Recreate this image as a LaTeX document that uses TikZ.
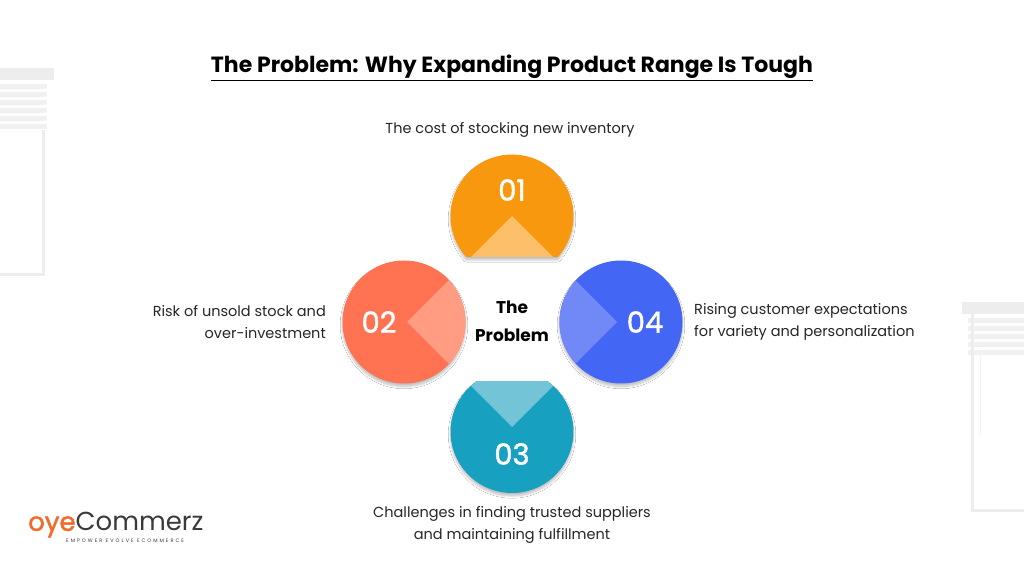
\documentclass[tikz,border=0pt]{standalone}
\usepackage{fontspec}
\setmainfont{Poppins}
\usetikzlibrary{shadows.blur}
\definecolor{orangeA}{HTML}{F7980F}
\definecolor{orangeB}{HTML}{FDBF6A}
\definecolor{coralA}{HTML}{FF7353}
\definecolor{coralB}{HTML}{FF9C82}
\definecolor{blueA}{HTML}{4466F5}
\definecolor{blueB}{HTML}{7089F7}
\definecolor{tealA}{HTML}{18A0C0}
\definecolor{tealB}{HTML}{72C4D6}
\definecolor{decor}{HTML}{EDEDED}
\definecolor{logoorange}{HTML}{F26B2A}
\definecolor{logogray}{HTML}{3A3A3A}
\begin{document}
\begin{tikzpicture}[x=1pt,y=1pt,
    num/.style={text=white,font=\fontsize{29}{30}\selectfont\addfontfeature{FakeBold=1.5}},
    desc/.style={font=\fontsize{14.5}{22}\selectfont,text=black!85,inner sep=0pt},
    shade/.style={blur shadow={shadow xshift=0pt,shadow yshift=-3pt,shadow blur steps=10,shadow opacity=25}}
  ]
\useasboundingbox[fill=white] (0,0) rectangle (1024,576);
% window decor
\fill[decor] (0,496) rectangle (54,508);
\foreach \k in {0,...,5} \fill[decor!80] (0,492-8*\k) rectangle (47,487-8*\k);
\draw[decor,line width=3pt] (43,446) -- (43,301) -- (0,301);
\fill[decor] (962,262) rectangle (1024,274);
\foreach \k in {0,...,4} \fill[decor!80] (968,258-8*\k) rectangle (1024,253-8*\k);
\draw[decor,line width=3pt] (972,262) -- (972,66) -- (1024,66);
\draw[decor!70] (980,226) -- (980,140);
% title
\node[font=\fontsize{22}{26}\selectfont\bfseries] (title) at (512,508) {\underline{The Problem: Why Expanding Product Range Is Tough}};
% circles
\path[fill=orangeA,shade] ([shift={(512,360)}]-41.8:61.5) arc[start angle=-41.8,end angle=221.8,radius=61.5] -- cycle;
\begin{scope}
\clip ([shift={(512,360)}]-41.8:61.5) arc[start angle=-41.8,end angle=221.8,radius=61.5] -- cycle;
\fill[orangeB] (512,360) -- ++(-80,-80) -- ++(160,0) -- cycle;
\end{scope}
\path[fill=tealA,shade] ([shift={(512,144.5)}]124.8:61.5) arc[start angle=124.8,end angle=415.2,radius=61.5] -- cycle;
\begin{scope}
\clip ([shift={(512,144.5)}]124.8:61.5) arc[start angle=124.8,end angle=415.2,radius=61.5] -- cycle;
\fill[tealB] (512,149) -- ++(-80,80) -- ++(160,0) -- cycle;
\end{scope}
\path[fill=coralA,shade] (404,254) circle[radius=61.5];
\begin{scope}
\clip (404,254) circle[radius=61.5];
\fill[coralB] (407,254) -- ++(80,80) -- ++(0,-160) -- cycle;
\end{scope}
\path[fill=blueA,shade] (621,254) circle[radius=61.5];
\begin{scope}
\clip (621,254) circle[radius=61.5];
\fill[blueB] (617,254) -- ++(-80,80) -- ++(0,-160) -- cycle;
\end{scope}
\node[num] (n1) at (512,386) {01};
\node[num] (n2) at (379,254) {02};
\node[num] (n4) at (645,254) {04};
\node[num] (n3) at (512,122) {03};
\node[font=\fontsize{17}{28}\selectfont\bfseries,align=center] (centre) at (512,255) {The\\Problem};
% descriptions
\node[desc] (d1) at (510,446) {The cost of stocking new inventory};
\node[desc,anchor=east,align=right] (d2) at (326,254) {Risk of unsold stock and\\over-investment};
\node[desc,anchor=west,align=left] (d4) at (694,254) {Rising customer expectations\\for variety and personalization};
\node[desc,align=center] (d3) at (512,51) {Challenges in finding trusted suppliers\\and maintaining fulfillment};
% logo
\node[anchor=west,inner sep=0pt,font=\fontsize{26}{28}\selectfont] (logo) at (28,51) {\textcolor{logoorange}{\addfontfeature{FakeBold=1.5}oye}\textcolor{logogray}{Commerz}};
\node[anchor=north west,inner sep=0pt,text=logogray,font=\fontsize{5}{6}\selectfont\addfontfeature{LetterSpace=40}] (tag) at (66,37) {EMPOWER EVOLVE ECOMMERCE};
\end{tikzpicture}
\end{document}
